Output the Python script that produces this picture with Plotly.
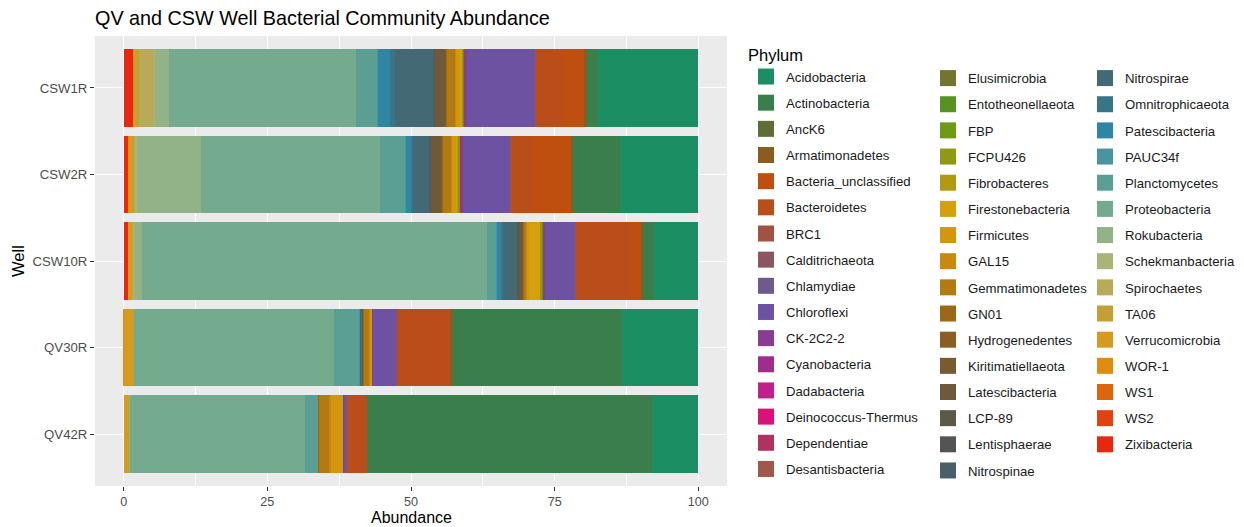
import plotly.graph_objects as go

wells = ["CSW1R", "CSW2R", "CSW10R", "QV30R", "QV42R"]

phyla = [
    "Acidobacteria", "Actinobacteria", "AncK6", "Armatimonadetes", "Bacteria_unclassified",
    "Bacteroidetes", "BRC1", "Calditrichaeota", "Chlamydiae", "Chloroflexi", "CK-2C2-2",
    "Cyanobacteria", "Dadabacteria", "Deinococcus-Thermus", "Dependentiae", "Desantisbacteria",
    "Elusimicrobia", "Entotheonellaeota", "FBP", "FCPU426", "Fibrobacteres", "Firestonebacteria",
    "Firmicutes", "GAL15", "Gemmatimonadetes", "GN01", "Hydrogenedentes", "Kiritimatiellaeota",
    "Latescibacteria", "LCP-89", "Lentisphaerae", "Nitrospinae",
    "Nitrospirae", "Omnitrophicaeota", "Patescibacteria", "PAUC34f", "Planctomycetes",
    "Proteobacteria", "Rokubacteria", "Schekmanbacteria", "Spirochaetes", "TA06",
    "Verrucomicrobia", "WOR-1", "WS1", "WS2", "Zixibacteria",
]

colors = [
    "#1B8E64", "#3A7F4B", "#5F6E35", "#8A5C1F", "#BF4F0E",
    "#BA4E1B", "#A05340", "#8A5662", "#6E5A8C", "#6C52A0", "#883C94",
    "#A02C8C", "#C0208C", "#D81278", "#B03262", "#A05848",
    "#737430", "#5A9221", "#6E9A18", "#8E9A14", "#B09A14", "#D4A00E",
    "#D4960C", "#C88A0E", "#B27A12", "#9C6818", "#8A5E20", "#7A5A30",
    "#6E5A3A", "#5E5848", "#525456", "#4A6068",
    "#436A74", "#3A7488", "#2E86A2", "#4894A0", "#5A9E94",
    "#74AA8E", "#92B288", "#A8B478", "#B8AA58", "#C4A034",
    "#D49C1E", "#E08C10", "#E0640E", "#E24210", "#E8280E",
]

csw1r = [17.4, 2.0, 0.1, 0.4, 3.8, 4.55, 0.05, 0.05, 0.05, 11.9, 0.15, 0.1, 0.05, 0.0, 0.05, 0.05,
         0.05, 0.05, 0.05, 0.2, 0.05, 0.2, 0.8, 0.1, 1.5, 0.1, 0.1, 0.15, 1.8, 0.05, 0.05, 0.05,
         6.7, 1.0, 2.1, 0.1, 3.7, 32.6, 2.35, 0.05, 2.8, 0.3, 0.6, 0.05, 0.0, 0.0, 1.65]
csw2r = [13.7, 8.1, 0.1, 0.2, 6.85, 3.6, 0.05, 0.0, 0.05, 8.3, 0.1, 0.15, 0.05, 0.0, 0.05, 0.05,
         0.05, 0.05, 0.05, 0.3, 0.05, 0.15, 0.9, 0.1, 1.5, 0.1, 0.05, 0.1, 1.8, 0.05, 0.05, 0.05,
         3.0, 0.2, 0.9, 0.1, 4.5, 31.1, 11.25, 0.15, 0.2, 0.3, 0.6, 0.1, 0.0, 0.0, 0.9]
csw10r = [7.7, 2.0, 0.05, 0.05, 2.0, 9.5, 0.05, 0.0, 0.05, 5.25, 0.05, 0.1, 0.05, 0.0, 0.05, 0.05,
          0.05, 0.05, 0.05, 0.3, 0.1, 2.0, 0.3, 0.1, 0.4, 0.1, 0.1, 0.1, 0.5, 0.3, 0.05, 0.05,
          2.5, 0.2, 0.9, 0.1, 1.6, 60.1, 1.1, 0.15, 0.25, 0.3, 0.5, 0.05, 0.0, 0.0, 0.75]
qv30r = [13.2, 29.5, 0.05, 0.3, 0.05, 9.3, 0.0, 0.0, 0.0, 4.2, 0.05, 0.0, 0.0, 0.0, 0.0, 0.0,
         0.0, 0.0, 0.0, 0.05, 0.0, 0.05, 0.3, 0.2, 0.9, 0.1, 0.05, 0.05, 0.05, 0.05, 0.0, 0.0,
         0.3, 0.05, 0.05, 0.05, 4.5, 34.75, 0.05, 0.0, 0.0, 0.05, 1.7, 0.05, 0.0, 0.0, 0.0]
qv42r = [8.0, 49.6, 0.0, 0.0, 0.0, 3.6, 0.0, 0.0, 0.1, 0.35, 0.05, 0.0, 0.0, 0.0, 0.0, 0.0,
         0.0, 0.0, 0.0, 0.0, 0.0, 0.0, 2.3, 0.1, 1.85, 0.1, 0.0, 0.0, 0.0, 0.0, 0.0, 0.0,
         0.05, 0.0, 0.0, 0.0, 2.4, 30.45, 0.05, 0.0, 0.0, 0.0, 1.0, 0.0, 0.0, 0.0, 0.0]

x_ticks = [0, 25, 50, 75, 100]

FONT = "Liberation Sans, Arial, Helvetica, sans-serif"
by_well = [csw1r, csw2r, csw10r, qv30r, qv42r]

fig = go.Figure()

# legend entries (square swatches), split over three columns like ggplot
n1, n2 = 16, 32
for i, (name, col) in enumerate(zip(phyla, colors)):
    leg = "legend" if i < n1 else ("legend2" if i < n2 else "legend3")
    fig.add_trace(go.Scatter(
        x=[None], y=[None], mode="markers", name=name, legendgroup=name, legend=leg,
        marker=dict(symbol="square", size=22, color=col, line=dict(width=0)),
        showlegend=True, hoverinfo="skip"))

# stacked bars: last phylum sits at the left (ggplot stack order)
for i in reversed(range(len(phyla))):
    fig.add_trace(go.Bar(
        y=wells, x=[w[i] for w in by_well], orientation="h", name=phyla[i],
        legendgroup=phyla[i], showlegend=False,
        marker=dict(color=colors[i], line=dict(width=0)),
        hovertemplate="%{y}<br>" + phyla[i] + ": %{x}<extra></extra>"))

legend_common = dict(
    xanchor="left", yanchor="top", xref="container", yref="container",
    bgcolor="rgba(255,255,255,0)", borderwidth=0, maxheight=1.0,
    font=dict(family=FONT, size=13.2, color="#1A1A1A"), tracegroupgap=6,
    itemsizing="trace", traceorder="grouped")

TOP, BOT = 36, 41
panel_h = 527 - TOP - BOT

fig.update_layout(
    width=1244, height=527,
    margin=dict(l=95, r=517, t=TOP, b=BOT),
    paper_bgcolor="white", plot_bgcolor="#EBEBEB",
    barmode="stack", bargap=0.1,
    font=dict(family=FONT, color="#1A1A1A"),
    title=dict(text="QV and CSW Well Bacterial Community Abundance",
               x=95 / 1244, xanchor="left", xref="container",
               y=1 - 18 / 527, yanchor="middle", yref="container",
               font=dict(family=FONT, size=19.8, color="black")),
    xaxis=dict(range=[-5, 105], tickvals=x_ticks, ticktext=[str(v) for v in x_ticks],
               automargin=False,
               showgrid=True, gridcolor="white", gridwidth=1.4, zeroline=False,
               ticks="outside", ticklen=4, tickcolor="#333333", tickwidth=1,
               tickfont=dict(family=FONT, size=12.6, color="#4D4D4D"),
               minor=dict(dtick=12.5, tick0=0, showgrid=True, gridcolor="white", gridwidth=0.7),
               showline=False),
    yaxis=dict(type="category", categoryorder="array", categoryarray=wells,
               range=[4.6, -0.6], automargin=False,
               showgrid=True, gridcolor="white", gridwidth=1.4, zeroline=False,
               ticks="outside", ticklen=4, tickcolor="#333333", tickwidth=1,
               tickfont=dict(family=FONT, size=13.2, color="#4D4D4D"),
               title=dict(text="Well", font=dict(family=FONT, size=16.5, color="black"),
                          standoff=3),
               showline=False),
    annotations=[dict(text="Abundance", xref="paper", yref="paper",
                      x=0.5, y=-(517.5 - (527 - BOT)) / panel_h,
                      xanchor="center", yanchor="middle", showarrow=False, borderpad=0,
                      font=dict(family=FONT, size=16, color="black"))],
    legend=dict(x=746 / 1244, y=1 - 40 / 527,
                title=dict(text="Phylum", font=dict(family=FONT, size=16.5, color="black")),
                **legend_common),
    legend2=dict(x=928 / 1244, y=1 - 63 / 527, **legend_common),
    legend3=dict(x=1085 / 1244, y=1 - 63 / 527, **legend_common),
)

fig.write_html("out.html")
